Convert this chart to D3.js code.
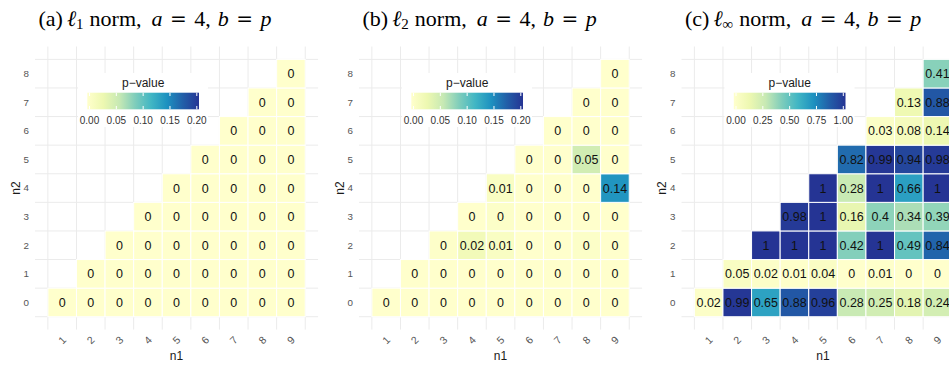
<!DOCTYPE html>
<html>
<head>
<meta charset="utf-8">
<script src="https://cdn.jsdelivr.net/npm/d3@7"></script>
<style>
  body { margin: 0; background: #fff; }
  svg { display: block; font-family: "Liberation Sans", Arial, sans-serif; }
</style>
</head>
<body>
<div id="chart"></div>
<script>
// categories
const n1Values = [1, 2, 3, 4, 5, 6, 7, 8, 9];
const n2Values = [0, 1, 2, 3, 4, 5, 6, 7, 8];

// p-values, one row per n2 (0..8), one column per n1 (1..9); null = no tile
const pL1 = [
  [0, 0, 0, 0, 0, 0, 0, 0, 0],
  [null, 0, 0, 0, 0, 0, 0, 0, 0],
  [null, null, 0, 0, 0, 0, 0, 0, 0],
  [null, null, null, 0, 0, 0, 0, 0, 0],
  [null, null, null, null, 0, 0, 0, 0, 0],
  [null, null, null, null, null, 0, 0, 0, 0],
  [null, null, null, null, null, null, 0, 0, 0],
  [null, null, null, null, null, null, null, 0, 0],
  [null, null, null, null, null, null, null, null, 0]
];
const pL2 = [
  [0, 0, 0, 0, 0, 0, 0, 0, 0],
  [null, 0, 0, 0, 0, 0, 0, 0, 0],
  [null, null, 0.003, 0.02, 0.01, 0, 0, 0.004, 0],
  [null, null, null, 0, 0.004, 0, 0, 0, 0],
  [null, null, null, null, 0.01, 0, 0, 0, 0.14],
  [null, null, null, null, null, 0, 0, 0.05, 0],
  [null, null, null, null, null, null, 0, 0, 0],
  [null, null, null, null, null, null, null, 0, 0],
  [null, null, null, null, null, null, null, null, 0]
];
const pLinf = [
  [0.02, 0.99, 0.65, 0.88, 0.96, 0.28, 0.25, 0.18, 0.24],
  [null, 0.05, 0.02, 0.01, 0.04, 0, 0.01, 0, 0],
  [null, null, 1, 1, 1, 0.42, 1, 0.49, 0.84],
  [null, null, null, 0.98, 1, 0.16, 0.4, 0.34, 0.39],
  [null, null, null, null, 1, 0.28, 1, 0.66, 1],
  [null, null, null, null, null, 0.82, 0.99, 0.94, 0.98],
  [null, null, null, null, null, null, 0.03, 0.08, 0.14],
  [null, null, null, null, null, null, null, 0.13, 0.88],
  [null, null, null, null, null, null, null, null, 0.41]
];

// legend ticks
const ticksSmall = [0, 0.05, 0.10, 0.15, 0.20];
const ticksUnit = [0, 0.25, 0.50, 0.75, 1.00];

// YlGnBu colours
const palette = ["#ffffcc", "#edf8b1", "#c7e9b4", "#7fcdbb", "#41b6c4", "#1d91c0", "#225ea8", "#253494"];

const panels = [
  {letter: "(a)", sub: "1", data: pL1, ticks: ticksSmall, max: 0.2, dx: 0},
  {letter: "(b)", sub: "2", data: pL2, ticks: ticksSmall, max: 0.2, dx: 324},
  {letter: "(c)", sub: "\u221E", data: pLinf, ticks: ticksUnit, max: 1, dx: 646.5}
];

const W = 949, H = 365;
const svg = d3.select("#chart").append("svg")
  .attr("width", W).attr("height", H);

const defs = svg.append("defs");
const fmtCell = v => String(Math.round(v * 100) / 100);
const fmtLeg = d3.format(".2f");

panels.forEach((p, i) => {
  const g = svg.append("g").attr("transform", "translate(" + p.dx + ",0)");

  // continuous scales with ggplot-like expansion
  const x = d3.scaleLinear().domain([0.05, 9.95]).range([35, 318.1]);
  const y = d3.scaleLinear().domain([-0.95, 8.95]).range([329.6, 46.5]);

  const color = d3.scaleLinear()
    .domain(palette.map((c, k) => p.max * k / (palette.length - 1)))
    .range(palette)
    .interpolate(d3.interpolateRgb)
    .clamp(true);

  // grid lines at tile boundaries
  const bx = n1Values.map(d => d - 0.5).concat([9.5]);
  const by = n2Values.map(d => d - 0.5).concat([8.5]);
  g.append("g").selectAll("line").data(bx).join("line")
    .attr("x1", d => x(d)).attr("x2", d => x(d))
    .attr("y1", y.range()[1]).attr("y2", y.range()[0])
    .attr("stroke", "#ebebeb").attr("stroke-width", 1);
  g.append("g").selectAll("line").data(by).join("line")
    .attr("y1", d => y(d)).attr("y2", d => y(d))
    .attr("x1", x.range()[0]).attr("x2", x.range()[1])
    .attr("stroke", "#ebebeb").attr("stroke-width", 1);

  // tiles
  const cells = [];
  p.data.forEach((row, r) => row.forEach((v, c) => {
    if (v !== null) cells.push({n1: n1Values[c], n2: n2Values[r], v: v});
  }));

  const tg = g.append("g");
  tg.selectAll("rect").data(cells).join("rect")
    .attr("x", d => x(d.n1 - 0.5))
    .attr("y", d => y(d.n2 + 0.5))
    .attr("width", d => x(d.n1 + 0.5) - x(d.n1 - 0.5))
    .attr("height", d => y(d.n2 - 0.5) - y(d.n2 + 0.5))
    .attr("fill", d => color(d.v))
    .attr("stroke", "#fff").attr("stroke-width", 1);
  tg.selectAll("text").data(cells).join("text")
    .attr("x", d => x(d.n1))
    .attr("y", d => y(d.n2))
    .attr("dy", "0.36em")
    .attr("text-anchor", "middle")
    .attr("font-size", 12.5)
    .attr("fill", "#111")
    .text(d => fmtCell(d.v));

  // y axis labels
  g.append("g").selectAll("text").data(n2Values).join("text")
    .attr("x", 29).attr("y", d => y(d)).attr("dy", "0.35em")
    .attr("text-anchor", "end").attr("font-size", 9.8).attr("fill", "#555")
    .text(d => d);
  // x axis labels, rotated
  g.append("g").selectAll("text").data(n1Values).join("text")
    .attr("transform", d => "translate(" + x(d) + ",340) rotate(-45)")
    .attr("text-anchor", "middle").attr("dy", "0.35em")
    .attr("font-size", 10.5).attr("fill", "#555")
    .text(d => d);

  // axis titles
  g.append("text")
    .attr("x", (x(0.5) + x(9.5)) / 2).attr("y", 359.5)
    .attr("text-anchor", "middle").attr("font-size", 12).attr("fill", "#1a1a1a")
    .text("n1");
  g.append("text")
    .attr("transform", "translate(19.5," + (y(4)) + ") rotate(-90)")
    .attr("text-anchor", "middle").attr("font-size", 12).attr("fill", "#1a1a1a")
    .text("n2");

  // legend
  const lx0 = 87.3, lx1 = 199, ly0 = 92.7, ly1 = 109.3;
  const inset = 2.2;
  const lscale = d3.scaleLinear().domain([0, p.max]).range([lx0 + inset, lx1 - inset]);
  const lg = g.append("g");
  lg.append("rect").attr("x", 78).attr("y", 73).attr("width", 130).attr("height", 54)
    .attr("fill", "#fff");
  lg.append("text").attr("x", (lx0 + lx1) / 2).attr("y", 86.5)
    .attr("text-anchor", "middle").attr("font-size", 12).attr("fill", "#1a1a1a")
    .text("p\u2212value");
  const gradId = "grad" + i;
  const grad = defs.append("linearGradient").attr("id", gradId)
    .attr("x1", "0%").attr("x2", "100%").attr("y1", "0%").attr("y2", "0%");
  palette.forEach((c, k) => {
    grad.append("stop").attr("offset", (100 * k / (palette.length - 1)) + "%").attr("stop-color", c);
  });
  lg.append("rect").attr("x", lx0).attr("y", ly0)
    .attr("width", lx1 - lx0).attr("height", ly1 - ly0)
    .attr("fill", "url(#" + gradId + ")");
  const tl = (ly1 - ly0) / 5;
  lg.selectAll("line.t1").data(p.ticks).join("line").attr("class", "t1")
    .attr("x1", d => lscale(d)).attr("x2", d => lscale(d))
    .attr("y1", ly0).attr("y2", ly0 + tl)
    .attr("stroke", "#fff").attr("stroke-width", 1);
  lg.selectAll("line.t2").data(p.ticks).join("line").attr("class", "t2")
    .attr("x1", d => lscale(d)).attr("x2", d => lscale(d))
    .attr("y1", ly1 - tl).attr("y2", ly1)
    .attr("stroke", "#fff").attr("stroke-width", 1);
  lg.selectAll("text.lab").data(p.ticks).join("text").attr("class", "lab")
    .attr("x", d => lscale(d)).attr("y", 123.5)
    .attr("text-anchor", "middle").attr("font-size", 10).attr("fill", "#333")
    .text(d => fmtLeg(d));

  // title, spaced to the width of the LaTeX caption
  const t = g.append("text")
    .attr("x", 38.5).attr("y", 25.5)
    .attr("font-family", "'Liberation Serif', 'Times New Roman', serif")
    .attr("font-size", 22).attr("fill", "#000");
  t.append("tspan").text(p.letter);
  t.append("tspan").attr("dx", 4).attr("font-style", "italic").text("\u2113");
  t.append("tspan").attr("font-size", 15).attr("dy", 3.5).text(p.sub);
  t.append("tspan").attr("dy", -3.5).attr("dx", 6).text("norm,");
  t.append("tspan").attr("dx", 10).attr("font-style", "italic").text("a");
  t.append("tspan").attr("dx", 7.5).attr("font-family", "'DejaVu Serif', serif").attr("font-size", 20).text("=");
  t.append("tspan").attr("dx", 7.5).text("4,");
  t.append("tspan").attr("dx", 7).attr("font-style", "italic").text("b");
  t.append("tspan").attr("dx", 7.5).attr("font-family", "'DejaVu Serif', serif").attr("font-size", 20).text("=");
  t.append("tspan").attr("dx", 7.5).attr("font-style", "italic").text("p");
});
</script>
</body>
</html>
